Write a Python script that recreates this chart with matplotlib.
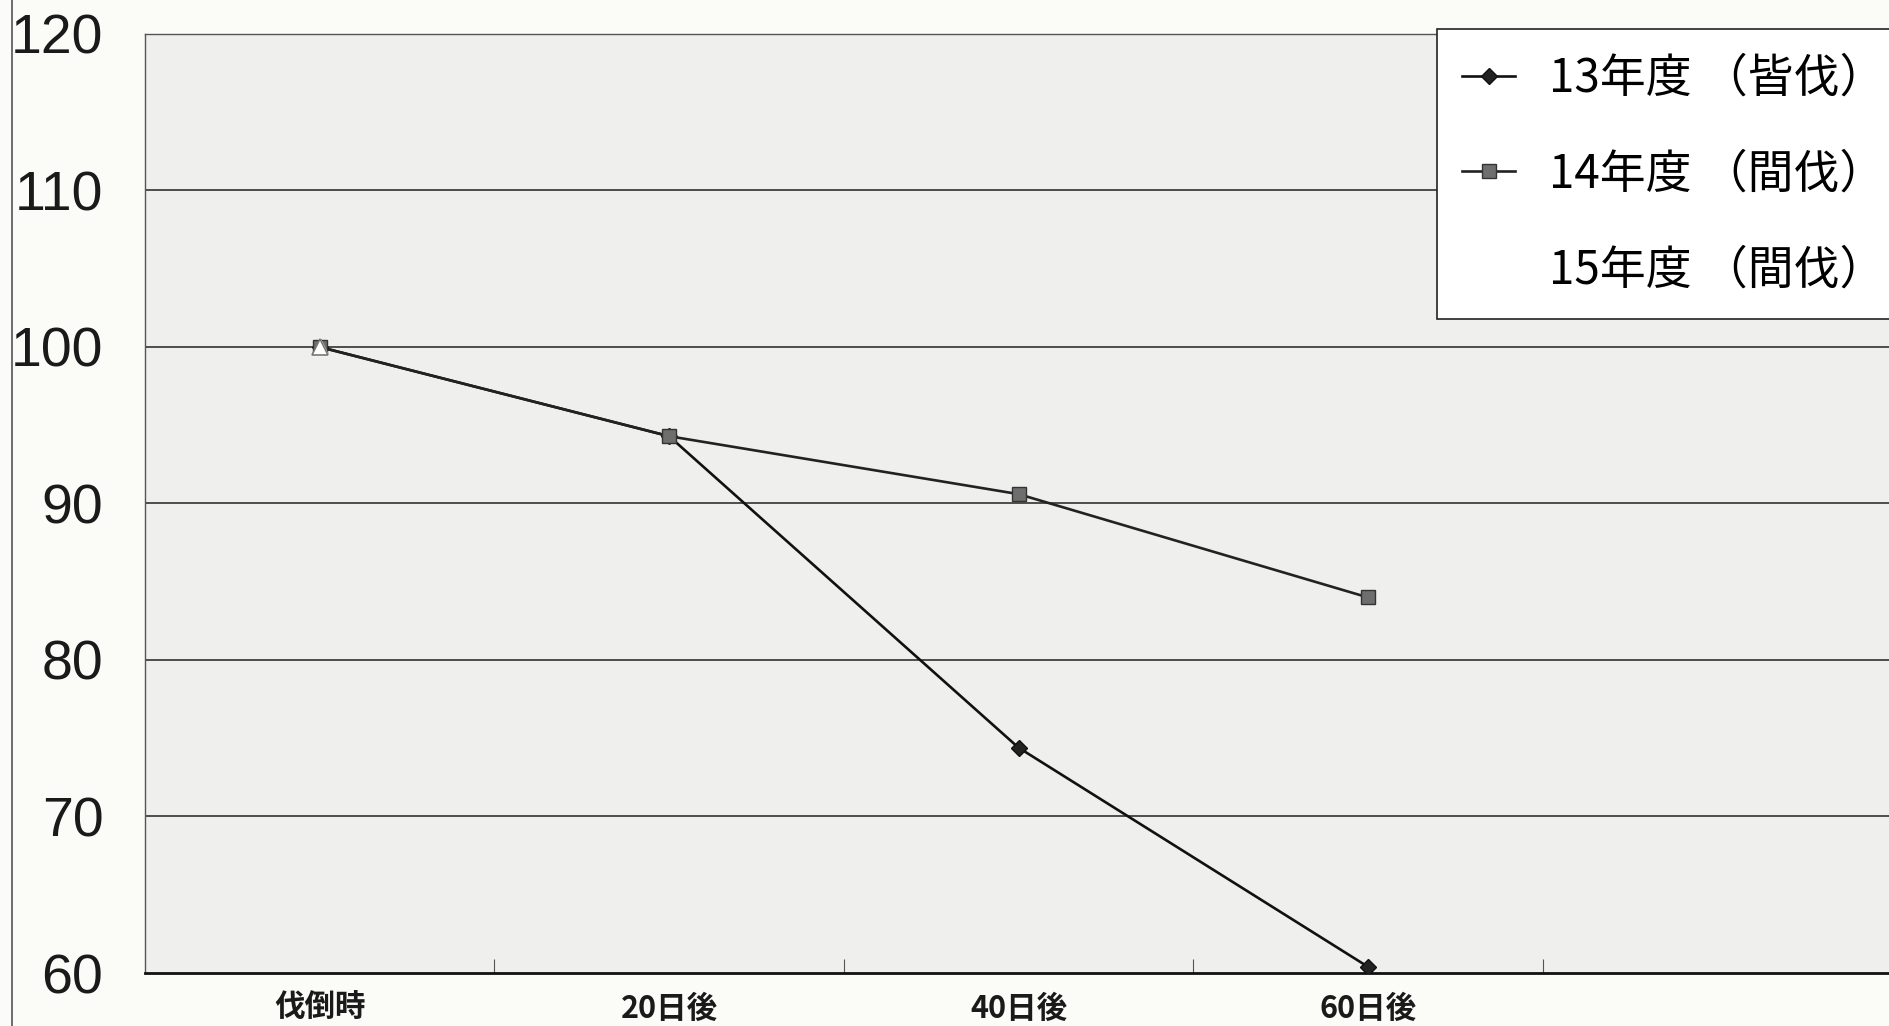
import numpy as np
import matplotlib
matplotlib.use("Agg")
import matplotlib.pyplot as plt
from matplotlib.lines import Line2D
from matplotlib.ticker import FixedLocator

# ── Data ─────────────────────────────────────────────────────────────
categories = ["伐倒時", "20日後", "40日後", "60日後", ""]
series_labels = ["13年度 （皆伐）", "14年度 （間伐）", "15年度 （間伐）"]
y13 = [100.0, 94.3, 74.4, 60.4, np.nan]
y14 = [100.0, 94.3, 90.6, 84.0, np.nan]
y15 = [100.0, np.nan, np.nan, np.nan, np.nan]
yticks = [60, 70, 80, 90, 100, 110, 120]

CJK = ["Noto Sans CJK JP", "DejaVu Sans"]

# ── Figure ───────────────────────────────────────────────────────────
W, H = 1889, 1026
fig = plt.figure(figsize=(W / 100, H / 100), dpi=100, facecolor="#fbfbf8")
ax = fig.add_axes([145 / W, 53 / H, 1747 / W, 939 / H])
ax.set_facecolor("#efefed")

x = np.arange(len(categories))

# horizontal gridlines
for v in yticks[1:-1]:
    ax.axhline(v, color="#222222", linewidth=1.1, zorder=1)

ax.plot(x, y13, color="#111111", linewidth=1.9, marker="D", markersize=8,
        markerfacecolor="#222222", markeredgecolor="#111111", label=series_labels[0], zorder=3)
ax.plot(x, y14, color="#222222", linewidth=1.9, marker="s", markersize=10,
        markerfacecolor="#6e6e6e", markeredgecolor="#333333", label=series_labels[1], zorder=3)
ax.plot(x, y15, color="white", linewidth=1.9, marker="^", markersize=11,
        markerfacecolor="white", markeredgecolor="white", label=series_labels[2], zorder=4)
ax.plot(x, y15, linestyle="none", marker="^", markersize=11, markerfacecolor="white",
        markeredgecolor="#777777", markeredgewidth=1.2, label="_nolegend_", zorder=4)

ax.set_xlim(-0.5, len(categories) - 0.5)
ax.set_ylim(60, 120)

# y axis
ax.set_yticks(yticks)
ax.set_yticklabels([str(v) for v in yticks], fontsize=40, family="Liberation Sans",
                   color="#1a1a1a")
ax.tick_params(axis="y", length=0, pad=30)

# x axis
ax.set_xticks(x)
ax.set_xticklabels(categories, fontsize=22, family=CJK, fontweight="bold", color="#1a1a1a")
ax.tick_params(axis="x", which="major", length=0, pad=14)
ax.xaxis.set_minor_locator(FixedLocator(x[:-1] + 0.5))
ax.tick_params(axis="x", which="minor", direction="in", length=10, width=0.8, color="#555555")

for side in ["left", "top", "right"]:
    ax.spines[side].set_color("#555555")
    ax.spines[side].set_linewidth(1.0)
ax.spines["bottom"].set_color("#111111")
ax.spines["bottom"].set_linewidth(2.0)

# legend (its frame runs past the right edge as in the scan)
leg = ax.legend(loc="upper left", bbox_to_anchor=(1437 / W, 997 / H),
                bbox_transform=fig.transFigure, prop={"family": CJK, "size": 33},
                frameon=True, fancybox=False, framealpha=1.0, edgecolor="#222222",
                handlelength=1.15, handletextpad=0.75, labelspacing=1.03,
                borderpad=0.55, borderaxespad=0)
leg.get_frame().set_linewidth(1.2)
leg.set_zorder(5)

# scan edge line on the left
fig.add_artist(Line2D([12 / W, 12 / W], [0, 1], transform=fig.transFigure,
                      color="#555555", linewidth=1.2))

fig.savefig("out.png", dpi=100, facecolor=fig.get_facecolor())
